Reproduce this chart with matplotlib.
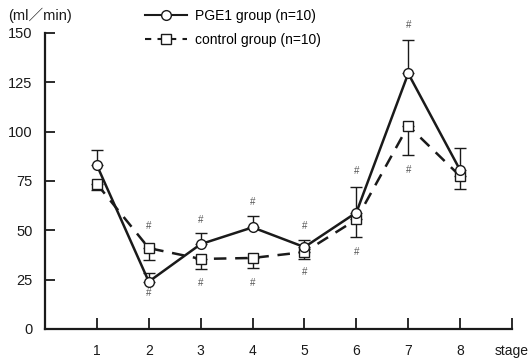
import matplotlib
matplotlib.use("Agg")
import matplotlib.pyplot as plt
from matplotlib.lines import Line2D

plt.rcParams['font.family'] = ['Liberation Sans', 'Noto Sans CJK JP', 'DejaVu Sans']

stages = [1, 2, 3, 4, 5, 6, 7, 8]
tick_labels = ['1', '2', '3', '4', '5', '6', '7', '8', 'stage']
pge1_mean = [83, 24, 43, 51.5, 41.5, 59, 129.5, 80.5]
pge1_err = [7.5, 4.5, 5.5, 6, 3.5, 13, 17, 11]
ctrl_mean = [73.5, 41, 35.5, 36, 39, 55.5, 103, 77.5]
ctrl_err = [3, 6, 5, 5, 3.5, 9, 15, 6.5]
hash_above = [None, 52, 55, 64.5, 52, 80, 154, None]
hash_below = [None, 18, 23.5, 23.5, 29, 39, 80.5, None]

fig = plt.figure(figsize=(5.32, 3.6), dpi=100)
ax = fig.add_axes([45/532, 1-329/360, (512-45)/532, (329-33)/360])
ax.set_xlim(0, 9)
ax.set_ylim(0, 150)

c = '#1a1a1a'
ax.errorbar(stages, pge1_mean, yerr=[[0]*8, pge1_err], fmt='-', color=c,
            lw=1.8, marker='o', ms=7, mfc='white', mec=c, mew=1.0,
            ecolor=c, elinewidth=1.0, capsize=4, capthick=1.0, zorder=3)
ax.errorbar(stages, ctrl_mean, yerr=[ctrl_err, [0]*8], fmt='--', color=c,
            lw=1.8, dashes=(5, 3.5), marker='s', ms=7.5, mfc='white', mec=c, mew=1.0,
            ecolor=c, elinewidth=1.0, capsize=4, capthick=1.0, zorder=2)

for x, ya, yb in zip(stages, hash_above, hash_below):
    if ya is not None:
        ax.text(x, ya, '#', ha='center', va='center', fontsize=7, color='#555555', clip_on=False)
    if yb is not None:
        ax.text(x, yb, '#', ha='center', va='center', fontsize=7, color='#555555', clip_on=False)

for s in ['top', 'right']:
    ax.spines[s].set_visible(False)
for s in ['left', 'bottom']:
    ax.spines[s].set_linewidth(1.6)
    ax.spines[s].set_color(c)

ax.set_xticks(range(1, 10))
ax.set_xticklabels(tick_labels, fontsize=10)
ax.set_yticks([0, 25, 50, 75, 100, 125, 150])
ax.tick_params(axis='x', direction='in', length=8, width=1.3, pad=11, colors=c, labelsize=10)
ax.tick_params(axis='y', direction='in', length=7, width=1.3, pad=9, labelsize=10.5, colors=c)

fig.text(8/532, 1-15/360, '(ml／min)', fontsize=10.5, va='center', ha='left', color=c)

handles = [
    Line2D([], [], color=c, lw=1.5, marker='o', ms=7, mfc='white', mec=c, mew=1.0),
    Line2D([], [], color=c, lw=1.5, ls='--', dashes=(3, 3), marker='s', ms=7.5, mfc='white', mec=c, mew=1.0),
]
labels = ['PGE1 group (n=10)', 'control group (n=10)']
fig.legend(handles, labels, loc='upper left', bbox_to_anchor=(137/532, 0.999), frameon=False,
           fontsize=10, handlelength=3.0, handletextpad=0.6, labelspacing=0.75,
           borderaxespad=0.2)

fig.savefig('out.png', dpi=100, facecolor='white')
